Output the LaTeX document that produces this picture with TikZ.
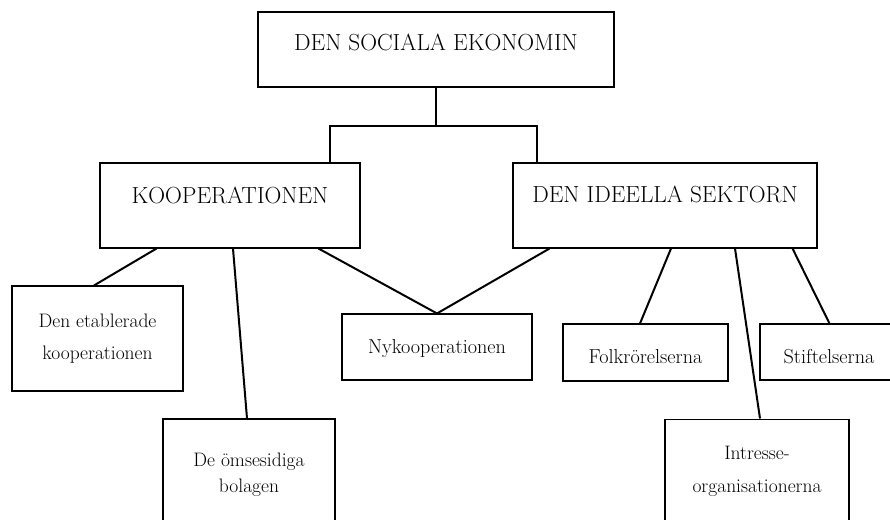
\documentclass[tikz,border=0pt]{standalone}
\begin{document}
\begin{tikzpicture}[x=1pt,y=-1pt,
  box/.style={draw, line width=1.1pt, inner sep=0pt, align=center},
  big/.style={font=\fontsize{23.3}{28}\selectfont},
  small/.style={font=\fontsize{20.2}{24}\selectfont},
  link/.style={line width=2pt}]
\useasboundingbox (0,0) rectangle (890,519);
\clip (0,0) rectangle (890,519);
\node[box, big, minimum width=356pt, text height=39pt, text depth=36pt] (soc) at (436,49.5){DEN SOCIALA EKONOMIN};
\node[box, big, minimum width=260pt, text height=40pt, text depth=45pt] (koop) at (230,205.5){KOOPERATIONEN};
\node[box, big, minimum width=304pt, text height=39pt, text depth=46pt] (ideell) at (665,205.5){DEN IDEELLA SEKTORN};
\draw[link] (soc.south) -- ++(0,38) coordinate (fork) -| ([xshift=-31pt]koop.north east);
\draw[link] (fork) -| ([xshift=25pt]ideell.north west);
\node[box, font=\fontsize{19.5}{32}\selectfont, minimum width=171pt, minimum height=105pt] (etabl) at (97.5,338.5){Den etablerade\\kooperationen};
\node[box, font=\fontsize{19.5}{26}\selectfont, minimum width=172pt, minimum height=112.5pt] (omses) at (249,475.2){De ömsesidiga\\bolagen};
\node[box, small, minimum width=190pt, text height=39pt, text depth=27pt] (nyko) at (437,347){Nykooperationen};
\draw[link] ([xshift=57pt]koop.south west) -- ([xshift=-3.5pt]etabl.north);
\draw[link] ([xshift=3pt]koop.south) -- ([xshift=-2pt]omses.north);
\draw[link] ([xshift=-42pt]koop.south east) -- (nyko.north);
\node[box, small, minimum width=165pt, text height=39pt, text depth=18pt] (folk) at (645.5,352.5){Folkrörelserna};
\node[box, small, minimum width=138pt, text height=39pt, text depth=17pt] (stift) at (829,352){Stiftelserna};
\node[box, font=\fontsize{19.5}{33}\selectfont, minimum width=184pt, minimum height=105.5pt] (intr) at (757,471.8){Intresse-\\organisationerna};
\draw[link] ([xshift=37pt]ideell.south west) -- (nyko.north);
\draw[link] ([xshift=6pt]ideell.south) -- ([xshift=-5.5pt]folk.north);
\draw[link] ([xshift=70pt]ideell.south) -- ([xshift=3pt]intr.north);
\draw[link] ([xshift=-25pt]ideell.south east) -- ([xshift=70pt]stift.north west);
\end{tikzpicture}
\end{document}
